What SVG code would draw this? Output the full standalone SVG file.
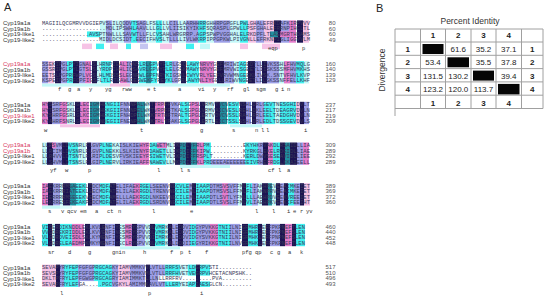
<svg xmlns="http://www.w3.org/2000/svg" width="550" height="301" viewBox="0 0 550 301">
<style>
.n{fill:#1d1452}.m{fill:#e37ccc}.p{fill:#f6c3e6}.c{fill:#3ff0f0}.l{fill:#c4f8f8}.b{fill:#9c9ee6}.t{fill:#1f8f9f}.w{fill:#fff}
.nm{font-family:"Liberation Sans",Arial,sans-serif;font-size:6px;fill:#333}
.rd{fill:#d8345c}
.sq{font-family:"Liberation Mono","DejaVu Sans Mono",monospace;font-size:4.8px;fill:#3a3a5a}
.nu{font-family:"Liberation Sans",Arial,sans-serif;font-size:6px;fill:#555;text-anchor:end}
.cs{font-family:"Liberation Mono","DejaVu Sans Mono",monospace;font-size:5.5px;fill:#333}
.lab{font-family:"Liberation Sans",Arial,sans-serif;font-size:11px;fill:#222}
.ax{font-family:"Liberation Sans",Arial,sans-serif;font-size:8.5px;fill:#333;text-anchor:middle}
.tv{font-family:"Liberation Sans",Arial,sans-serif;font-size:8px;fill:#222;text-anchor:middle}
.tb{font-family:"Liberation Sans",Arial,sans-serif;font-size:8px;fill:#222;text-anchor:middle;font-weight:bold}
.gl{stroke:#a0a0a0;stroke-width:1;fill:none}
</style>
<rect width="550" height="301" fill="#fff"/>
<text class="lab" x="4" y="10.5">A</text>

<g id="block1" transform="translate(0,23.3)">
<rect class="l" x="100" y="-2.9" width="6" height="22.3"/><rect class="b" x="106" y="-2.9" width="6" height="22.3"/><rect class="l" x="112" y="-2.9" width="12" height="22.3"/><rect class="b" x="124" y="-2.9" width="7" height="22.3"/><rect class="c" x="131" y="-2.9" width="6" height="22.3"/><rect class="b" x="137" y="-2.9" width="9" height="22.3"/><rect class="l" x="146" y="-2.9" width="10" height="22.3"/><rect class="c" x="156" y="-2.9" width="6" height="22.3"/><rect class="l" x="162" y="-2.9" width="7" height="22.3"/><rect class="b" x="169" y="-2.9" width="9" height="22.3"/><rect class="l" x="178" y="-2.9" width="8" height="22.3"/><rect class="b" x="186" y="-2.9" width="12" height="22.3"/><rect class="c" x="198" y="-2.9" width="8" height="22.3"/><rect class="l" x="206" y="-2.9" width="8" height="22.3"/><rect class="b" x="214" y="-2.9" width="16" height="22.3"/><rect class="l" x="230" y="-2.9" width="10" height="22.3"/><rect class="c" x="240" y="-2.9" width="8" height="22.3"/><rect class="p" x="248" y="-2.9" width="8" height="22.3"/><rect class="b" x="256" y="-2.9" width="8" height="22.3"/><rect class="p" x="264" y="-2.9" width="10" height="22.3"/><rect class="n" x="274" y="-2.9" width="7" height="22.3"/><rect class="b" x="281" y="-2.9" width="8" height="22.3"/><rect class="m" x="289" y="-2.9" width="7" height="22.3"/><rect class="n" x="297" y="-2.9" width="6" height="22.3"/><rect class="p" x="303" y="-2.9" width="6" height="22.3"/>
<rect class="c" x="87" y="8.1" width="13" height="5.8"/><rect class="m" x="280" y="8.1" width="12" height="5.8"/><rect class="t" x="270" y="8.1" width="8" height="5.8"/>
<rect class="p" x="82" y="20.3" width="10" height="5.5"/><rect class="c" x="96" y="20.3" width="8" height="5.5"/><rect class="p" x="110" y="20.3" width="8" height="5.5"/><rect class="c" x="126" y="20.3" width="5" height="5.5"/><rect class="b" x="140" y="20.3" width="8" height="5.5" opacity="0.6"/><rect class="p" x="160" y="20.3" width="12" height="5.5"/><rect class="c" x="186" y="20.3" width="8" height="5.5"/><rect class="l" x="200" y="20.3" width="10" height="5.5"/><rect class="p" x="240" y="20.3" width="8" height="5.5"/><rect class="p" x="262" y="20.3" width="18" height="5.5"/>
<text class="nm" x="3" y="2">Cyp19a1a</text><text class="nm" x="3" y="7.5">Cyp19a1b</text><text class="nm" x="3" y="13">Cyp19-like1</text><text class="nm" x="3" y="18.5">Cyp19-like2</text>
<text class="sq" x="42" y="1.7" textLength="268" lengthAdjust="spacingAndGlyphs">MAGIILQCGMRVVDGIEPVSLILQDDVTSAGLFSLLLLCILLAARHHRRGHHRPGPGFLPWLGHALEFRKDAFKIRPVVV</text>
<text class="sq" x="42" y="7.2" textLength="268" lengthAdjust="spacingAndGlyphs">...................MDLIPSWHLAAVLLLGLLVLIISIKYIKHFSQRASPLGPWLLPSFGHALEFRRNPIHCLTL</text>
<text class="sq" x="42" y="12.7" textLength="268" lengthAdjust="spacingAndGlyphs">..............AVSPTNWLLLSAVWTLLFLCVSAHLWRGRRP.AGPSPWPVGGHALELRKDPFLTLAEMGRTHDAMS</text>
<text class="sq" x="42" y="18.2" textLength="268" lengthAdjust="spacingAndGlyphs">.................MIDLDCSIDT.EECIFHVSLTLLLLIVLWKRPIPPGPKWLPIVGNLLEFRKNPISLIGGVVLM</text>
<text class="cs" y="27"><tspan x="268">eqp</tspan><tspan x="302">p</tspan></text>
<text class="nu" x="335.5" y="1.9">80</text><text class="nu" x="335.5" y="7.4">60</text><text class="nu" x="335.5" y="12.9">60</text><text class="nu" x="335.5" y="18.4">49</text>
</g>

<g id="block2" transform="translate(0,64)">
<rect class="b" x="42" y="-2.9" width="6" height="22.3"/><rect class="p" x="48" y="-2.9" width="6" height="22.3"/><rect class="n" x="55" y="-2.9" width="6" height="22.3"/><rect class="b" x="61" y="-2.9" width="6" height="22.3"/><rect class="c" x="67" y="-2.9" width="6" height="22.3"/><rect class="n" x="73" y="-2.9" width="6" height="22.3"/><rect class="b" x="79" y="-2.9" width="6" height="22.3"/><rect class="m" x="85" y="-2.9" width="6" height="22.3"/><rect class="n" x="92" y="-2.9" width="5" height="22.3"/><rect class="l" x="97" y="-2.9" width="4" height="22.3"/><rect class="c" x="101" y="-2.9" width="10" height="22.3"/><rect class="n" x="113" y="-2.9" width="6" height="22.3"/><rect class="m" x="120" y="-2.9" width="7" height="22.3"/><rect class="b" x="127" y="-2.9" width="4" height="22.3"/><rect class="n" x="132" y="-2.9" width="6" height="22.3"/><rect class="c" x="139" y="-2.9" width="7" height="22.3"/><rect class="t" x="146" y="-2.9" width="5" height="22.3"/><rect class="c" x="151" y="-2.9" width="6" height="22.3"/><rect class="n" x="159" y="-2.9" width="6" height="22.3"/><rect class="c" x="165" y="-2.9" width="7" height="22.3"/><rect class="b" x="172" y="-2.9" width="6" height="22.3"/><rect class="n" x="181" y="-2.9" width="5" height="22.3"/><rect class="c" x="187" y="-2.9" width="12" height="22.3"/><rect class="m" x="200" y="-2.9" width="14" height="22.3"/><rect class="n" x="217" y="-2.9" width="7" height="22.3"/><rect class="b" x="224" y="-2.9" width="10" height="22.3"/><rect class="l" x="234" y="-2.9" width="5" height="22.3"/><rect class="c" x="239" y="-2.9" width="7" height="22.3"/><rect class="n" x="248" y="-2.9" width="7" height="22.3"/><rect class="b" x="255" y="-2.9" width="6" height="22.3"/><rect class="n" x="262" y="-2.9" width="5" height="22.3"/><rect class="b" x="267" y="-2.9" width="12" height="22.3"/><rect class="l" x="279" y="-2.9" width="5" height="22.3"/><rect class="m" x="284" y="-2.9" width="6" height="22.3"/><rect class="b" x="290" y="-2.9" width="6" height="22.3"/><rect class="c" x="296" y="-2.9" width="8" height="22.3"/><rect class="l" x="304" y="-2.9" width="5" height="22.3"/>
<rect class="l" x="42" y="19.6" width="68" height="3"/><rect class="p" x="110" y="19.6" width="20" height="3"/><rect class="l" x="130" y="19.6" width="100" height="3"/>
<text class="nm rd" x="3" y="2">Cyp19a1a</text><text class="nm" x="3" y="7.5">Cyp19a1b</text><text class="nm" x="3" y="13">Cyp19-like1</text><text class="nm" x="3" y="18.5">Cyp19-like2</text>
<text class="sq" x="42" y="1.7" textLength="268" lengthAdjust="spacingAndGlyphs">SSEKIPGLPYIGNALSLHRNPIEALIQNSLRLGPVYRLRLGSQLAWYNRVYGEFMRIWIAGEDTLLIVKSSHLFHVMQLG</text>
<text class="sq" x="42" y="7.2" textLength="268" lengthAdjust="spacingAndGlyphs">GSSRIPGLPYLGTSLSLYRDPIHHLIQSAVRLGPVYRLELGSKMAWYNRVYGEFMRVWISGEETLIISKSSSMFHVMKHS</text>
<text class="sq" x="42" y="12.7" textLength="268" lengthAdjust="spacingAndGlyphs">EETSLPGPRFWPLVGSLHLMDSSSLEGNRWLGPFNRYKIGSKLCWYVRLYEEFVRVWMNGEEKLIVSK.SNTVFHVLKVP</text>
<text class="sq" x="42" y="18.2" textLength="268" lengthAdjust="spacingAndGlyphs">KSPEIPGPRFCPFIGSFLTLRTEAWLGESWEKFYREYKLGPRLAWYNLIYGELLRIWVNGEETLILSKSSNFFELLKHF</text>
<text class="cs" y="27"><tspan x="58">f</tspan><tspan x="68">g</tspan><tspan x="77">a</tspan><tspan x="89">y</tspan><tspan x="105">yg</tspan><tspan x="122">rww</tspan><tspan x="147">e</tspan><tspan x="153">t</tspan><tspan x="178">a</tspan><tspan x="198">vi</tspan><tspan x="213">y</tspan><tspan x="227">rf</tspan><tspan x="243">gl</tspan><tspan x="256">sgm</tspan><tspan x="275">g</tspan><tspan x="281">i</tspan><tspan x="287">n</tspan></text>
<text class="nu" x="335.5" y="1.9">160</text><text class="nu" x="335.5" y="7.4">140</text><text class="nu" x="335.5" y="12.9">139</text><text class="nu" x="335.5" y="18.4">129</text>
</g>

<g id="block3" transform="translate(0,104.7)">
<rect class="m" x="42" y="-2.9" width="6" height="22.3"/><rect class="n" x="48" y="-2.9" width="4" height="22.3"/><rect class="b" x="52" y="-2.9" width="8" height="22.3"/><rect class="m" x="60" y="-2.9" width="7" height="22.3"/><rect class="l" x="67" y="-2.9" width="7" height="22.3"/><rect class="n" x="75" y="-2.9" width="5" height="22.3"/><rect class="m" x="80" y="-2.9" width="9" height="22.3"/><rect class="t" x="90" y="-2.9" width="9" height="22.3"/><rect class="n" x="100" y="-2.9" width="5" height="22.3"/><rect class="c" x="105" y="-2.9" width="15" height="22.3"/><rect class="b" x="120" y="-2.9" width="9" height="22.3"/><rect class="n" x="130" y="-2.9" width="7" height="22.3"/><rect class="t" x="137" y="-2.9" width="8" height="22.3"/><rect class="l" x="145" y="-2.9" width="4" height="22.3"/><rect class="n" x="150" y="-2.9" width="5" height="22.3"/><rect class="m" x="155" y="-2.9" width="9" height="22.3"/><rect class="n" x="165" y="-2.9" width="5" height="22.3"/><rect class="b" x="170" y="-2.9" width="9" height="22.3"/><rect class="c" x="180" y="-2.9" width="9" height="22.3"/><rect class="m" x="190" y="-2.9" width="9" height="22.3"/><rect class="n" x="200" y="-2.9" width="5" height="22.3"/><rect class="l" x="205" y="-2.9" width="9" height="22.3"/><rect class="n" x="215" y="-2.9" width="5" height="22.3"/><rect class="t" x="220" y="-2.9" width="7" height="22.3"/><rect class="c" x="228" y="-2.9" width="11" height="22.3"/><rect class="n" x="240" y="-2.9" width="6" height="22.3"/><rect class="b" x="246" y="-2.9" width="5" height="22.3"/><rect class="n" x="252" y="-2.9" width="4" height="22.3"/><rect class="b" x="256" y="-2.9" width="8" height="22.3"/><rect class="c" x="264" y="-2.9" width="11" height="22.3"/><rect class="l" x="275" y="-2.9" width="5" height="22.3"/><rect class="c" x="280" y="-2.9" width="16" height="22.3"/><rect class="p" x="296" y="-2.9" width="4" height="22.3"/><rect class="n" x="300" y="-2.9" width="4" height="22.3"/><rect class="b" x="304" y="-2.9" width="5" height="22.3"/>
<rect class="p" x="60" y="19.6" width="40" height="3"/><rect class="l" x="230" y="19.6" width="32" height="3"/>
<text class="nm" x="3" y="2">Cyp19a1a</text><text class="nm" x="3" y="7.5">Cyp19a1b</text><text class="nm rd" x="3" y="13">Cyp19-like1</text><text class="nm" x="3" y="18.5">Cyp19-like2</text>
<text class="sq" x="42" y="1.7" textLength="268" lengthAdjust="spacingAndGlyphs">HYSSRFGSKLGLECIGMHENGIIFNNNPALWKTTRPFFVKALSGPSLVRMVTVCVESVNSHLDRLGEVTNESGHIDVLT</text>
<text class="sq" x="42" y="7.2" textLength="268" lengthAdjust="spacingAndGlyphs">HYTSRFGSKLGLECIGMHEKGIIFNNNPELWKTVRPFFTKALSGPGLVRMVAICVESLREHLDKLEELTDEAGRVDVLN</text>
<text class="sq" x="42" y="12.7" textLength="268" lengthAdjust="spacingAndGlyphs">KYSHRFGSRLGLKCIGMHEKGIIFNHDPILWKKTRTHFTRALTGPGLERTVDVCVSSLRAHLRRLEELTAEDGHVDVLN</text>
<text class="sq" x="42" y="18.2" textLength="268" lengthAdjust="spacingAndGlyphs">KYAHRFSNRLGLECIGMNDEGIIFNENPHLWKKTRLYFAKGLSGPGLERTLEICTSSLSSHLDRLEDLTDSSGEVDVLS</text>
<text class="cs" y="27"><tspan x="44">w</tspan><tspan x="140">t</tspan><tspan x="200">g</tspan><tspan x="232">s</tspan><tspan x="255">n</tspan><tspan x="261">l</tspan><tspan x="266">l</tspan><tspan x="304">i</tspan></text>
<text class="nu" x="335.5" y="1.9">237</text><text class="nu" x="335.5" y="7.4">217</text><text class="nu" x="335.5" y="12.9">219</text><text class="nu" x="335.5" y="18.4">209</text>
</g>

<g id="block4" transform="translate(0,145.4)">
<rect class="l" x="42" y="-2.9" width="5" height="22.3"/><rect class="n" x="47" y="-2.9" width="6" height="22.3"/><rect class="b" x="53" y="-2.9" width="9" height="22.3"/><rect class="n" x="62" y="-2.9" width="6" height="22.3"/><rect class="c" x="68" y="-2.9" width="10" height="22.3"/><rect class="l" x="78" y="-2.9" width="8" height="22.3"/><rect class="n" x="87" y="-2.9" width="4" height="22.3"/><rect class="b" x="91" y="-2.9" width="9" height="22.3"/><rect class="c" x="100" y="-2.9" width="12" height="22.3"/><rect class="l" x="112" y="-2.9" width="8" height="22.3"/><rect class="b" x="120" y="-2.9" width="20" height="22.3"/><rect class="m" x="140" y="-2.9" width="9" height="22.3"/><rect class="c" x="150" y="-2.9" width="16" height="22.3"/><rect class="l" x="166" y="-2.9" width="8" height="22.3"/><rect class="n" x="175" y="-2.9" width="5" height="22.3"/><rect class="t" x="180" y="-2.9" width="6" height="22.3"/><rect class="n" x="186" y="-2.9" width="5" height="22.3"/><rect class="t" x="191" y="-2.9" width="6" height="22.3"/><rect class="m" x="197" y="-2.9" width="7" height="22.3"/><rect class="c" x="204" y="-2.9" width="7" height="22.3"/><rect class="c" x="245" y="-2.9" width="13" height="22.3"/><rect class="b" x="258" y="-2.9" width="5" height="22.3"/><rect class="n" x="263" y="-2.9" width="5" height="22.3"/><rect class="m" x="268" y="-2.9" width="5" height="22.3"/><rect class="c" x="273" y="-2.9" width="7" height="22.3"/><rect class="n" x="280" y="-2.9" width="5" height="22.3"/><rect class="t" x="285" y="-2.9" width="5" height="22.3"/><rect class="n" x="290" y="-2.9" width="7" height="22.3"/><rect class="b" x="297" y="-2.9" width="6" height="22.3"/><rect class="m" x="303" y="-2.9" width="6" height="22.3"/>
<rect class="b" x="211" y="13.6" width="34" height="5.8"/><rect class="m" x="52" y="-2.9" width="4" height="5.8"/><rect class="m" x="157" y="-2.9" width="10" height="5.8"/>
<rect class="l" x="180" y="19.6" width="50" height="3"/>
<text class="nm rd" x="3" y="2">Cyp19a1a</text><text class="nm rd" x="3" y="7.5">Cyp19a1b</text><text class="nm" x="3" y="13">Cyp19-like1</text><text class="nm" x="3" y="18.5">Cyp19-like2</text>
<text class="sq" x="42" y="1.7" textLength="268" lengthAdjust="spacingAndGlyphs">LLRSVMLDVSNRLFLGVPLNEKAISLKIEHYFDAWETMLIKPDLYFRLPM..........EKYHKRVAKDLRSAIDLLIA</text>
<text class="sq" x="42" y="7.2" textLength="268" lengthAdjust="spacingAndGlyphs">LLRCIMLDVSNRLFLGVPLNEKKLSLKIENYFDAWETLLIKPDIFFKIPW..........KYRKGLEKELRDGIDLLIAE</text>
<text class="sq" x="42" y="12.7" textLength="268" lengthAdjust="spacingAndGlyphs">LLRHVVLDTSNTLFLRIPLDESVFVSKIEEYFSIWETVLIKPDIFFRSPLT.........KERLDWVSESEAVIDLLIEE</text>
<text class="sq" x="42" y="18.2" textLength="268" lengthAdjust="spacingAndGlyphs">LLSHVMLDTSNSLFLGIPLNERVLIRKIEAFFNAWEVLLMKPDIFFKLPRDEEEAEEEEEEEIVRHEFRDGLKKAIEELL</text>
<text class="cs" y="27"><tspan x="50">yf</tspan><tspan x="65">w</tspan><tspan x="88">p</tspan><tspan x="157">l</tspan><tspan x="180">l</tspan><tspan x="187">s</tspan><tspan x="268">cf</tspan><tspan x="278">l</tspan><tspan x="287">a</tspan></text>
<text class="nu" x="335.5" y="1.9">309</text><text class="nu" x="335.5" y="7.4">289</text><text class="nu" x="335.5" y="12.9">292</text><text class="nu" x="335.5" y="18.4">289</text>
</g>

<g id="block5" transform="translate(0,186.1)">
<rect class="m" x="42" y="-2.9" width="6" height="22.3"/><rect class="n" x="48" y="-2.9" width="5" height="22.3"/><rect class="b" x="53" y="-2.9" width="7" height="22.3"/><rect class="l" x="60" y="-2.9" width="3" height="22.3"/><rect class="n" x="63" y="-2.9" width="7" height="22.3"/><rect class="t" x="70" y="-2.9" width="6" height="22.3"/><rect class="c" x="76" y="-2.9" width="10" height="22.3"/><rect class="n" x="88" y="-2.9" width="4" height="22.3"/><rect class="b" x="92" y="-2.9" width="8" height="22.3"/><rect class="c" x="100" y="-2.9" width="10" height="22.3"/><rect class="n" x="110" y="-2.9" width="6" height="22.3"/><rect class="b" x="116" y="-2.9" width="18" height="22.3"/><rect class="m" x="134" y="-2.9" width="6" height="22.3"/><rect class="c" x="140" y="-2.9" width="10" height="22.3"/><rect class="b" x="150" y="-2.9" width="18" height="22.3"/><rect class="n" x="170" y="-2.9" width="5" height="22.3"/><rect class="c" x="175" y="-2.9" width="14" height="22.3"/><rect class="b" x="189" y="-2.9" width="3" height="22.3"/><rect class="n" x="192" y="-2.9" width="4" height="22.3"/><rect class="c" x="196" y="-2.9" width="14" height="22.3"/><rect class="b" x="210" y="-2.9" width="12" height="22.3"/><rect class="m" x="222" y="-2.9" width="6" height="22.3"/><rect class="b" x="228" y="-2.9" width="10" height="22.3"/><rect class="l" x="238" y="-2.9" width="4" height="22.3"/><rect class="n" x="242" y="-2.9" width="4" height="22.3"/><rect class="c" x="246" y="-2.9" width="6" height="22.3"/><rect class="b" x="252" y="-2.9" width="6" height="22.3"/><rect class="l" x="258" y="-2.9" width="4" height="22.3"/><rect class="n" x="262" y="-2.9" width="6" height="22.3"/><rect class="t" x="268" y="-2.9" width="4" height="22.3"/><rect class="l" x="272" y="-2.9" width="4" height="22.3"/><rect class="n" x="276" y="-2.9" width="4" height="22.3"/><rect class="b" x="280" y="-2.9" width="4" height="22.3"/><rect class="n" x="284" y="-2.9" width="4" height="22.3"/><rect class="c" x="288" y="-2.9" width="6" height="22.3"/><rect class="b" x="294" y="-2.9" width="6" height="22.3"/><rect class="n" x="300" y="-2.9" width="4" height="22.3"/><rect class="p" x="304" y="-2.9" width="6" height="22.3"/>
<rect class="l" x="42" y="19.6" width="18" height="3"/><rect class="l" x="60" y="19.6" width="12" height="3" opacity="0.6"/>
<text class="nm" x="3" y="2">Cyp19a1a</text><text class="nm" x="3" y="7.5">Cyp19a1b</text><text class="nm" x="3" y="13">Cyp19-like1</text><text class="nm" x="3" y="18.5">Cyp19-like2</text>
<text class="sq" x="42" y="1.7" textLength="268" lengthAdjust="spacingAndGlyphs">IAEKRRRMSAEEKLDDCMDFATELIFAEKRGELSEENVNECVLEMLIAAPDTMSVSVFFMLFLIAKHPEVEEAIMKEIET</text>
<text class="sq" x="42" y="7.2" textLength="268" lengthAdjust="spacingAndGlyphs">IAEKRRRIATEEKLEECMDFATELILAEKRGDLTRENVNECILEMLIAAPDTMSVSLFFMLFLIAKNPRVEEAIMKEIET</text>
<text class="sq" x="42" y="12.7" textLength="268" lengthAdjust="spacingAndGlyphs">IEERRRRMSEEEKVEECMDFAMELLLAEKRGDLNKEEVNECILEMLIAAPDTLSVTLYFMLLLLAEHPDVEEKVREEIET</text>
<text class="sq" x="42" y="18.2" textLength="268" lengthAdjust="spacingAndGlyphs">LEKRRESFEKEAKPEDCMDFATELILAEKRGDLSRDNVNECILEMLIAAPDTLSVSLFFMLVLIAEHPKVEEKIFEEIHT</text>
<text class="cs" y="27"><tspan x="48">s</tspan><tspan x="61">v</tspan><tspan x="67">qcv</tspan><tspan x="80">em</tspan><tspan x="95">a</tspan><tspan x="107">ct</tspan><tspan x="118">n</tspan><tspan x="152">l</tspan><tspan x="190">e</tspan><tspan x="255">l</tspan><tspan x="272">l</tspan><tspan x="287">i</tspan><tspan x="293">e</tspan><tspan x="300">r</tspan><tspan x="306">yv</tspan></text>
<text class="nu" x="335.5" y="1.9">389</text><text class="nu" x="335.5" y="7.4">369</text><text class="nu" x="335.5" y="12.9">372</text><text class="nu" x="335.5" y="18.4">360</text>
</g>

<g id="block6" transform="translate(0,226.8)">
<rect class="c" x="42" y="-2.9" width="6" height="22.3"/><rect class="n" x="48" y="-2.9" width="4" height="22.3"/><rect class="l" x="52" y="-2.9" width="3" height="22.3"/><rect class="n" x="55" y="-2.9" width="5" height="22.3"/><rect class="c" x="60" y="-2.9" width="12" height="22.3"/><rect class="m" x="72" y="-2.9" width="12" height="22.3"/><rect class="n" x="85" y="-2.9" width="5" height="22.3"/><rect class="b" x="90" y="-2.9" width="10" height="22.3"/><rect class="n" x="100" y="-2.9" width="5" height="22.3"/><rect class="b" x="105" y="-2.9" width="10" height="22.3"/><rect class="n" x="115" y="-2.9" width="5" height="22.3"/><rect class="l" x="120" y="-2.9" width="5" height="22.3"/><rect class="m" x="125" y="-2.9" width="7" height="22.3"/><rect class="n" x="132" y="-2.9" width="5" height="22.3"/><rect class="b" x="137" y="-2.9" width="8" height="22.3"/><rect class="l" x="145" y="-2.9" width="5" height="22.3"/><rect class="n" x="150" y="-2.9" width="5" height="22.3"/><rect class="c" x="155" y="-2.9" width="10" height="22.3"/><rect class="l" x="165" y="-2.9" width="3" height="22.3"/><rect class="n" x="168" y="-2.9" width="4" height="22.3"/><rect class="b" x="172" y="-2.9" width="6" height="22.3"/><rect class="n" x="178" y="-2.9" width="5" height="22.3"/><rect class="b" x="183" y="-2.9" width="7" height="22.3"/><rect class="c" x="190" y="-2.9" width="6" height="22.3"/><rect class="b" x="196" y="-2.9" width="14" height="22.3"/><rect class="m" x="210" y="-2.9" width="8" height="22.3"/><rect class="c" x="218" y="-2.9" width="12" height="22.3"/><rect class="b" x="230" y="-2.9" width="10" height="22.3"/><rect class="n" x="242" y="-2.9" width="6" height="22.3"/><rect class="c" x="248" y="-2.9" width="10" height="22.3"/><rect class="n" x="258" y="-2.9" width="4" height="22.3"/><rect class="l" x="262" y="-2.9" width="4" height="22.3"/><rect class="n" x="266" y="-2.9" width="4" height="22.3"/><rect class="b" x="270" y="-2.9" width="10" height="22.3"/><rect class="n" x="280" y="-2.9" width="5" height="22.3"/><rect class="m" x="285" y="-2.9" width="7" height="22.3"/><rect class="n" x="292" y="-2.9" width="4" height="22.3"/><rect class="c" x="296" y="-2.9" width="9" height="22.3"/>
<rect class="l" x="120" y="19.6" width="60" height="3"/>
<text class="nm" x="3" y="2">Cyp19a1a</text><text class="nm" x="3" y="7.5">Cyp19a1b</text><text class="nm" x="3" y="13">Cyp19-like1</text><text class="nm" x="3" y="18.5">Cyp19-like2</text>
<text class="sq" x="42" y="1.7" textLength="263" lengthAdjust="spacingAndGlyphs">VIGERDIKNDDLEKLKVLENFIYESMRYEPVVDLVMRKALEDDVIDGYPVKKGTNIILNIGRMHRLEFFPKPNEFTLEN</text>
<text class="sq" x="42" y="7.2" textLength="263" lengthAdjust="spacingAndGlyphs">VVGDREKRIDDLEKLKVVENFINESMRYEPVVDLVMRKALEDDVIDGYPVKKGTNIILNIGRMHRLEFFPKPNEFSLEN</text>
<text class="sq" x="42" y="12.7" textLength="263" lengthAdjust="spacingAndGlyphs">VLGDRDVEISDLSKLKYMENFIYESMRYEPVVDIIMRKALEDDVIDGYSVKKGTNIILNIGRMHKLEFFPNPNEFSLEN</text>
<text class="sq" x="42" y="18.2" textLength="263" lengthAdjust="spacingAndGlyphs">VLGDRELEAEDMPKMKYMENFIYECLRYEPVVDLVMRKALDDDIIEGYRIKKGTNIILNVGRMHKLEFFPKPNEFTLEN</text>
<text class="cs" y="27"><tspan x="48">sr</tspan><tspan x="68">d</tspan><tspan x="88">g</tspan><tspan x="112">gnin</tspan><tspan x="143">h</tspan><tspan x="170">f</tspan><tspan x="180">p</tspan><tspan x="188">t</tspan><tspan x="205">f</tspan><tspan x="242">pfg</tspan><tspan x="255">qp</tspan><tspan x="270">c</tspan><tspan x="277">g</tspan><tspan x="288">a</tspan><tspan x="300">k</tspan></text>
<text class="nu" x="335.5" y="1.9">460</text><text class="nu" x="335.5" y="7.4">440</text><text class="nu" x="335.5" y="12.9">452</text><text class="nu" x="335.5" y="18.4">448</text>
</g>

<g id="block7" transform="translate(0,267.5)">
<rect class="p" x="42" y="-2.9" width="14" height="22.3"/><rect class="n" x="56" y="-2.9" width="4" height="22.3"/><rect class="b" x="60" y="-2.9" width="4" height="22.3"/><rect class="c" x="64" y="-2.9" width="14" height="22.3"/><rect class="b" x="78" y="-2.9" width="16" height="22.3"/><rect class="c" x="94" y="-2.9" width="18" height="22.3"/><rect class="b" x="112" y="-2.9" width="6" height="22.3"/><rect class="p" x="118" y="-2.9" width="12" height="22.3"/><rect class="b" x="130" y="-2.9" width="15" height="22.3"/><rect class="n" x="146" y="-2.9" width="4" height="22.3"/><rect class="b" x="150" y="-2.9" width="15" height="22.3"/><rect class="c" x="165" y="-2.9" width="15" height="22.3"/><rect class="l" x="180" y="-2.9" width="8" height="22.3"/><rect class="c" x="188" y="-2.9" width="8" height="22.3"/><rect class="n" x="196" y="-2.9" width="4" height="22.3"/><rect class="c" x="200" y="-2.9" width="10" height="22.3"/>
<rect class="w" x="158" y="8.1" width="38" height="5.8"/><rect class="w" x="200" y="8.1" width="12" height="5.8"/><rect class="w" x="80" y="13.6" width="18" height="5.8"/>
<text class="nm" x="3" y="2">Cyp19a1a</text><text class="nm" x="3" y="7.5">Cyp19a1b</text><text class="nm" x="3" y="13">Cyp19-like1</text><text class="nm" x="3" y="18.5">Cyp19-like2</text>
<text class="sq" x="42" y="1.7" textLength="210" lengthAdjust="spacingAndGlyphs">SEVAPYRYFEPFGFGPRGCAGKYIAMVMMKVVLVTLLRRFSVETLDGRPVSTI..........</text>
<text class="sq" x="42" y="7.2" textLength="210" lengthAdjust="spacingAndGlyphs">SEVSPYRYFEPFGFGPRGCAGKYIAMVMMKVMLVTLLRRFHVETVEGRPVHCETACNPSHK..</text>
<text class="sq" x="42" y="12.7" textLength="210" lengthAdjust="spacingAndGlyphs">DKLTPFRYLEPFGWGPRGCAGRYIAMIMMKTLLLNLLRRFRV.........PVA.........</text>
<text class="sq" x="42" y="18.2" textLength="210" lengthAdjust="spacingAndGlyphs">SEVAPFRYLEFGA.....PGCVGKYLAMIMMKAVLVTLLERYEIAPIAESGLCN.........</text>
<text class="cs" y="27"><tspan x="60">l</tspan><tspan x="148">p</tspan><tspan x="200">i</tspan></text>
<text class="nu" x="335.5" y="1.9">517</text><text class="nu" x="335.5" y="7.4">510</text><text class="nu" x="335.5" y="12.9">496</text><text class="nu" x="335.5" y="18.4">493</text>
</g>

<g id="panelB">
<text class="lab" x="376" y="11.5">B</text>
<text class="ax" x="470" y="23.5">Percent Identity</text>
<text class="ax" transform="translate(384.5,70) rotate(-90)">Divergence</text>
<g id="grid" class="gl">
<path d="M395 29V116M420.5 29V108.5M445.5 29V108.5M471 29V108.5M496 29V108.5M521.5 29V108.5M543 29V108.5"/>
<path d="M395 29H543M395 42H543M395 55.3H543M395 68.6H543M395 81.9H543M395 95.2H543M395 108.5H543"/>
</g>
<rect x="422.5" y="44" width="21" height="10" fill="#050505"/>
<rect x="447.5" y="57.3" width="21.5" height="10" fill="#050505"/>
<rect x="473" y="70.6" width="21" height="10" fill="#050505"/>
<rect x="498" y="83.9" width="21.5" height="10.5" fill="#050505"/>
<text class="tb" y="38"><tspan x="433">1</tspan><tspan x="458.25">2</tspan><tspan x="483.5">3</tspan><tspan x="508.75">4</tspan></text>
<text class="tb" y="105.5"><tspan x="433">1</tspan><tspan x="458.25">2</tspan><tspan x="483.5">3</tspan><tspan x="508.75">4</tspan></text>
<text class="tb" x="407.75" y="52">1</text><text class="tb" x="532.25" y="52">1</text>
<text class="tb" x="407.75" y="65.3">2</text><text class="tb" x="532.25" y="65.3">2</text>
<text class="tb" x="407.75" y="78.6">3</text><text class="tb" x="532.25" y="78.6">3</text>
<text class="tb" x="407.75" y="92">4</text><text class="tb" x="532.25" y="92">4</text>
<text class="tv" y="52"><tspan x="458.25">61.6</tspan><tspan x="483.5">35.2</tspan><tspan x="508.75">37.1</tspan></text>
<text class="tv" y="65.3"><tspan x="433">53.4</tspan><tspan x="483.5">35.5</tspan><tspan x="508.75">37.8</tspan></text>
<text class="tv" y="78.6"><tspan x="433">131.5</tspan><tspan x="458.25">130.2</tspan><tspan x="508.75">39.4</tspan></text>
<text class="tv" y="92"><tspan x="433">123.2</tspan><tspan x="458.25">120.0</tspan><tspan x="483.5">113.7</tspan></text>
</g>
</svg>
